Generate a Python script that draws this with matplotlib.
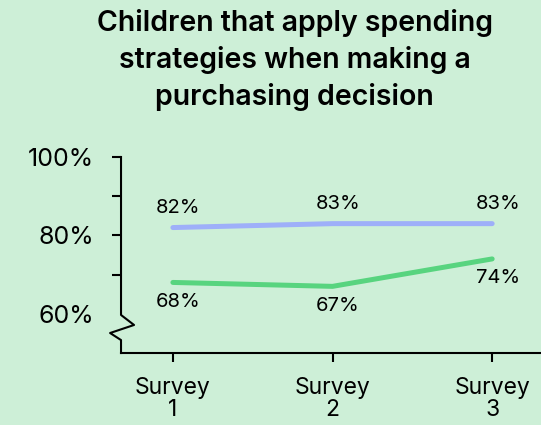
import matplotlib.pyplot as plt

plt.rcParams['font.family'] = ['Inter', 'DejaVu Sans']

# datos
encuestas = ["Survey\n1", "Survey\n2", "Survey\n3"]
x = [1, 2, 3]
serie_azul = [82, 83, 83]
serie_verde = [68, 67, 74]
yticks = [60, 70, 80, 90, 100]
ytick_labels = ["60%", "", "80%", "", "100%"]

fondo = "#cdefd7"
azul = "#9eaff9"
verde = "#58d47f"

fig = plt.figure(figsize=(5.41, 4.25), dpi=100, facecolor=fondo)
ax = fig.add_axes([0.2237, 0.1694, 0.7763, 0.4612], facecolor=fondo)

ax.plot(x, serie_azul, color=azul, lw=3.6, solid_capstyle='round', clip_on=False)
ax.plot(x, serie_verde, color=verde, lw=3.6, solid_capstyle='round', clip_on=False)

for xi, v in zip(x, serie_azul):
    ax.annotate(f"{v}%", (xi, v), xytext=(4, 14), textcoords='offset points',
                ha='center', va='center', fontsize=14.5)
for xi, v in zip(x, serie_verde):
    ax.annotate(f"{v}%", (xi, v), xytext=(4, -14), textcoords='offset points',
                ha='center', va='center', fontsize=14.5)

ax.set_xlim(0.675, 3.306)
ax.set_ylim(50, 100)

ax.set_xticks(x)
ax.set_xticklabels(encuestas, fontsize=16.5, linespacing=1.0)
ax.set_yticks(yticks)
ax.set_yticklabels(ytick_labels, fontsize=18)
ax.tick_params(axis='y', length=6.5, width=1.5, pad=13)
ax.tick_params(axis='x', length=6.5, width=1.5, pad=11)
ax.yaxis.get_major_ticks()[0].tick1line.set_visible(False)

for s in ['top', 'right', 'left']:
    ax.spines[s].set_visible(False)
ax.spines['bottom'].set_linewidth(1.5)

# eje y con corte (zigzag)
bx = [0, 0, 0.031, -0.026, 0, 0]
by = [1, 0.194, 0.143, 0.102, 0.066, 0]
ax.plot(bx, by, color='black', lw=1.5, transform=ax.transAxes, clip_on=False)

fig.text(0.545, 0.859, "Children that apply spending\nstrategies when making a\npurchasing decision",
         ha='center', va='center', fontsize=20.5, fontweight='semibold', linespacing=1.4)

fig.savefig("out.png", dpi=100, facecolor=fondo)
